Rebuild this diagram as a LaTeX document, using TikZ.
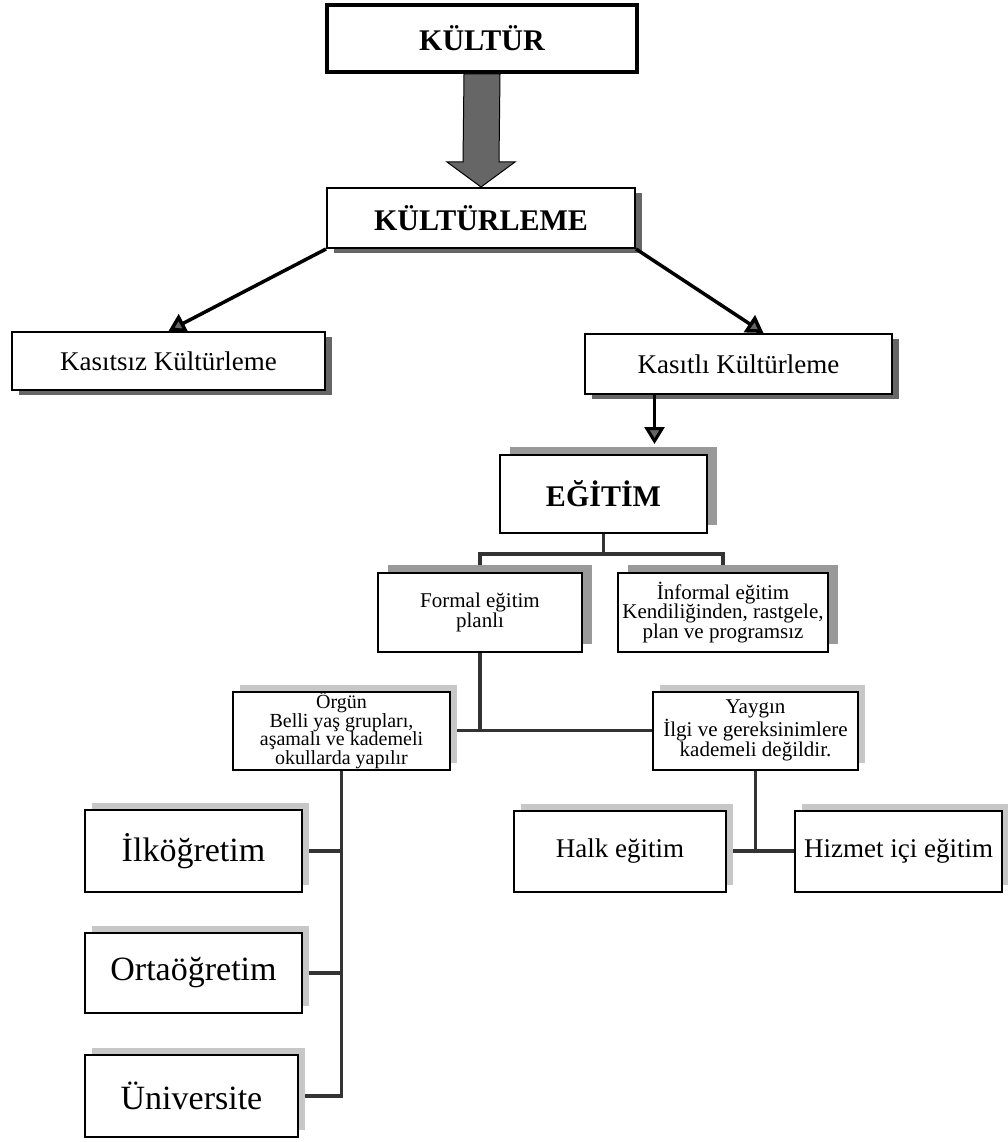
\documentclass[tikz,border=0pt]{standalone}
\usepackage{fontspec}
\setmainfont{Liberation Serif}
\usetikzlibrary{arrows.meta,shadows,calc,backgrounds}
\begin{document}
\begin{tikzpicture}[x=1pt,y=-1pt,
    box/.style = {draw, fill=white, line width=2pt, inner sep=0pt, align=center},
    lowshadow/.style = {box, drop shadow={shadow xshift=7pt, shadow yshift=-5pt, fill=black!60, opacity=1}},
    highshadow/.style = {box, drop shadow={shadow xshift=10pt, shadow yshift=8pt, fill=black!40, opacity=1}},
    faintshadow/.style = {box, drop shadow={shadow xshift=7pt, shadow yshift=7pt, fill=black!22, opacity=1}},
    big/.style = {font=\bfseries\fontsize{30}{32}\selectfont},
    mid/.style = {font=\fontsize{27}{29}\selectfont},
    small/.style = {font=\fontsize{21}{19.5}\selectfont},
    tight/.style = {font=\fontsize{20}{18.5}\selectfont},
    large/.style = {font=\fontsize{34}{36}\selectfont},
    arrow/.style = {line width=3.5pt, -{Triangle[width=20pt,length=17pt,fill=black!60]}},
    branch/.style = {line width=3.5pt, black!80}]
    \useasboundingbox (0,0) rectangle (1008,1142);

    \node [box, big, line width=4pt, minimum width=310, minimum height=67] (kultur) at (482,38.5) {KÜLTÜR};
    \node [lowshadow, big, minimum width=308, minimum height=60] (kulturleme) at (481,218) {KÜLTÜRLEME};

    \node [lowshadow, mid, minimum width=313, minimum height=58] (kasitsiz) at (168.5,361) {Kasıtsız Kültürleme};
    \node [lowshadow, mid, minimum width=307, minimum height=60] (kasitli) at (738.5,364) {Kasıtlı Kültürleme};

    \node [highshadow, big, minimum width=207, minimum height=78] (egitim) at (603.5,494) {EĞİTİM};

    \node [highshadow, small, minimum width=204, minimum height=79] (formal) at (480,612.5) {Formal eğitim\\planlı};
    \node [highshadow, small, minimum width=210, minimum height=79] (informal) at (723,612.5) {İnformal eğitim\\Kendiliğinden, rastgele,\\plan ve programsız};

    \node [faintshadow, tight, minimum width=217, minimum height=78] (orgun) at (341.5,730.5) {Örgün\\Belli yaş grupları,\\aşamalı ve kademeli\\okullarda yapılır};
    \node [faintshadow, small, minimum width=205, minimum height=78] (yaygin) at (755.5,730.5) {Yaygın\\İlgi ve gereksinimlere\\kademeli değildir.};

    \node [faintshadow, mid, minimum width=212, minimum height=81] (halk) at (620,851) {Halk eğitim};
    \node [faintshadow, mid, minimum width=207, minimum height=81] (hizmet) at (898.5,851) {Hizmet içi eğitim};

    \node [faintshadow, large, minimum width=217, minimum height=82] (ilk) at (193.5,851) {İlköğretim};
    \node [faintshadow, large, minimum width=217, minimum height=80] (orta) at (193.5,973) {Ortaöğretim};
    \node [faintshadow, large, minimum width=213, minimum height=82] (univ) at (191.5,1096) {Üniversite};

    % big block arrow
    \filldraw [fill=black!60, line width=1pt]
        ($(kultur.south)+(-18,0)$) -- ($(kultur.south)+(18,0)$) -- ($(kulturleme.north)+(18,-25)$)
        -- ($(kulturleme.north)+(34,-25)$) -- (kulturleme.north) -- ($(kulturleme.north)+(-34,-25)$)
        -- ($(kulturleme.north)+(-18,-25)$) -- cycle;

    \draw [arrow] (kulturleme.south west) -- (kasitsiz.north);
    \draw [arrow] (kulturleme.south east) -- ([xshift=25pt]kasitli.north);

    \coordinate (drop) at ($(kasitli.south)+(-84,0)$);
    \draw [arrow, line width=3pt] (drop) -- ($(drop |- egitim.north)+(0,-10)$);

    \begin{scope}[on background layer]
        \draw [branch] (egitim.south) -- ++(0,20) coordinate (bus);
        \draw [branch] (formal.north) |- (bus) -| (informal.north);

        \draw [branch] (formal.south) -- (formal.south |- orgun.east);
        \draw [branch] (orgun.east) -- (yaygin.west);

        \draw [branch] (yaygin.south) -- (yaygin.south |- halk.east);
        \draw [branch] (halk.east) -- (hizmet.west);

        \draw [branch] (orgun.south) |- (univ.east);
        \draw [branch] (ilk.east) -- (ilk.east -| orgun.south);
        \draw [branch] (orta.east) -- (orta.east -| orgun.south);
    \end{scope}
\end{tikzpicture}
\end{document}
